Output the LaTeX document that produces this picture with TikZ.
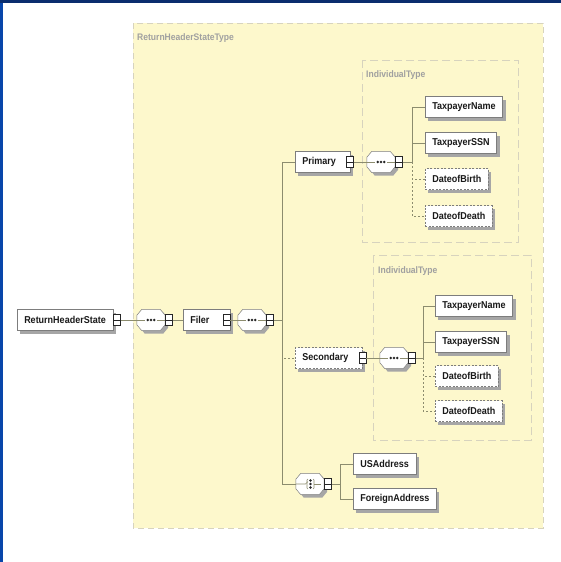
\documentclass[tikz,border=0pt]{standalone}
\usepackage{fontspec}
\newfontfamily\xsdfont{Liberation Sans}[FakeStretch=0.9]
\usepackage{tikz}
\usetikzlibrary{shadows}
\definecolor{xsdcream}{RGB}{253,248,204}
\definecolor{xsdline}{RGB}{140,140,110}
\definecolor{xsdedge}{RGB}{125,125,125}
\definecolor{xsdlabel}{RGB}{160,160,160}
\definecolor{xsddash}{RGB}{215,211,190}
\definecolor{framenavy}{RGB}{10,45,110}
\definecolor{frameblue}{RGB}{8,70,170}
\tikzset{
  shade3/.style={drop shadow={shadow xshift=3pt,shadow yshift=-3pt,fill=black!35,opacity=1}},
  elem/.style={draw=xsdedge,fill=white,line width=0.5pt,anchor=west,minimum height=21pt,
    inner xsep=7pt,inner ysep=0pt,text=black!90,font=\xsdfont\bfseries\fontsize{10}{12}\selectfont,shade3},
  optelem/.style={elem,dash pattern=on 2pt off 1.5pt},
  typelabel/.style={anchor=west,inner sep=0pt,text=xsdlabel,font=\xsdfont\bfseries\fontsize{9.5}{11}\selectfont},
  conn/.style={draw=xsdline,line width=0.6pt},
  optconn/.style={conn,dash pattern=on 2pt off 2pt},
  dotfill/.style={fill=black!85},
  exbox/.style={draw=black!85,fill=white,line width=0.9pt,minimum width=7pt,minimum height=11pt,inner sep=0pt,
    path picture={\draw[black!85,line width=0.9pt] (path picture bounding box.west) -- (path picture bounding box.east);}},
  compos/.style={minimum width=28pt,minimum height=21pt,inner sep=0pt},
  octa/.style={draw=xsdedge,fill=white,line width=0.5pt,shade3}
}
\newcommand\octagon[1]{%
  \path[octa] ([xshift=5pt]#1.north west) -- ([xshift=-5pt]#1.north east) -- ([yshift=-6pt]#1.north east)
    -- ([yshift=6pt]#1.south east) -- ([xshift=-5pt]#1.south east) -- ([xshift=5pt]#1.south west)
    -- ([yshift=6pt]#1.south west) -- ([yshift=-6pt]#1.north west) -- cycle;}
\newcommand\seqnode[2]{%
  \node[compos] (#1) at (#2) {};
  \octagon{#1}
  \draw[conn] (#1.west) -- ([xshift=-6pt]#1.center) ([xshift=6pt]#1.center) -- (#1.east);
  \foreach \d in {-3.2,0,3.2} \fill[dotfill] ([xshift=\d pt]#1.center) circle (1.35pt);}
\newcommand\choicenode[2]{%
  \node[compos] (#1) at (#2) {};
  \octagon{#1}
  \draw[conn] (#1.west) -- ([xshift=-4.5pt]#1.center) -- ++(2.5pt,2.5pt);
  \draw[conn] ([xshift=4pt]#1.center) -- ([xshift=-3pt]#1.east);
  \draw[conn] ([xshift=-2pt,yshift=5pt]#1.center) -- ++(-1pt,-1pt) -- ++(0pt,-8pt) -- ++(1pt,-1pt)
    ([xshift=3pt,yshift=5pt]#1.center) -- ++(1pt,-1pt) -- ++(0pt,-8pt) -- ++(-1pt,-1pt);
  \foreach \d in {-3.5,0,3.5} \fill[dotfill] ([xshift=0.5pt,yshift=\d pt]#1.center) circle (1.3pt);}
\begin{document}
\begin{tikzpicture}[x=1pt,y=-1pt]
\useasboundingbox (0,0) rectangle (561,562);
\fill[white] (0,0) rectangle (561,562);
\fill[frameblue] (0,0) rectangle (3,562);
\fill[framenavy] (0,0) rectangle (561,3);
\path[draw=xsddash,fill=xsdcream,dash pattern=on 6pt off 4pt] (133,23) rectangle (543,528);
\path[draw=xsddash,dash pattern=on 8pt off 4pt] (362,60) rectangle (518,242);
\path[draw=xsddash,dash pattern=on 8pt off 4pt] (373,255) rectangle (531,440);
\node[typelabel] (rhstype) at (137,38) {ReturnHeaderStateType};
\node[typelabel] (indtypea) at (366,75) {IndividualType};
\node[typelabel] (indtypeb) at (378,271) {IndividualType};

\node[elem] (rhs) at (17,320) {ReturnHeaderState};
\node[exbox] (rhsx) at (117,320) {};
\seqnode{seqa}{151,320}
\node[exbox] (seqax) at ([xshift=4pt]seqa.east) {};
\node[elem] (filer) at (183,320) {Filer\kern14pt};
\node[exbox] (filerx) at ([xshift=-4pt]filer.east) {};
\seqnode{seqb}{252,320}
\node[exbox] (seqbx) at ([xshift=4pt]seqb.east) {};
\coordinate (busb) at (282,320);

\node[elem] (primary) at (295,162) {Primary\kern7pt};
\node[exbox] (primaryx) at (primary.east) {};
\seqnode{seqc}{381,162}
\node[exbox] (seqcx) at ([xshift=4pt]seqc.east) {};
\coordinate (busc) at (412,162);
\node[elem] (namea) at (425,107) {TaxpayerName};
\node[elem] (ssna) at (425,143) {TaxpayerSSN};
\node[optelem] (birtha) at (425,179) {DateofBirth};
\node[optelem] (deatha) at (425,216) {DateofDeath};

\node[optelem] (secondary) at (295,358) {Secondary\kern7pt};
\node[exbox] (secondaryx) at (secondary.east) {};
\seqnode{seqd}{394,358}
\node[exbox] (seqdx) at ([xshift=4pt]seqd.east) {};
\coordinate (busd) at (423,358);
\node[elem] (nameb) at (435,306) {TaxpayerName};
\node[elem] (ssnb) at (435,342) {TaxpayerSSN};
\node[optelem] (birthb) at (435,376) {DateofBirth};
\node[optelem] (deathb) at (435,411) {DateofDeath};

\choicenode{addr}{310,484}
\node[exbox] (addrx) at ([xshift=4pt]addr.east) {};
\coordinate (buse) at (340,484);
\node[elem] (usaddr) at (353,464) {USAddress};
\node[elem] (foraddr) at (353,499) {ForeignAddress};

\draw[conn] (rhsx.east) -- (seqa.west);
\draw[conn] (seqax.east) -- (filer.west);
\draw[conn] (filerx.east) -- (seqb.west);
\draw[conn] (seqbx.east) -- (busb);
\draw[conn] (busb) |- (primary.west);
\draw[conn] (busb) |- (addr.west);
\draw[optconn] (busb) |- (secondary.west);

\draw[conn] (primaryx.east) -- (seqc.west);
\draw[conn] (seqcx.east) -- (busc);
\draw[conn] (busc) |- (namea.west);
\draw[conn] (busc) |- (ssna.west);
\draw[optconn] (busc) |- (birtha.west);
\draw[optconn] (busc) |- (deatha.west);

\draw[conn] (secondaryx.east) -- (seqd.west);
\draw[conn] (seqdx.east) -- (busd);
\draw[conn] (busd) |- (nameb.west);
\draw[conn] (busd) |- (ssnb.west);
\draw[optconn] (busd) |- (birthb.west);
\draw[optconn] (busd) |- (deathb.west);

\draw[conn] (addrx.east) -- (buse);
\draw[conn] (buse) |- (usaddr.west);
\draw[conn] (buse) |- (foraddr.west);
\end{tikzpicture}
\end{document}
